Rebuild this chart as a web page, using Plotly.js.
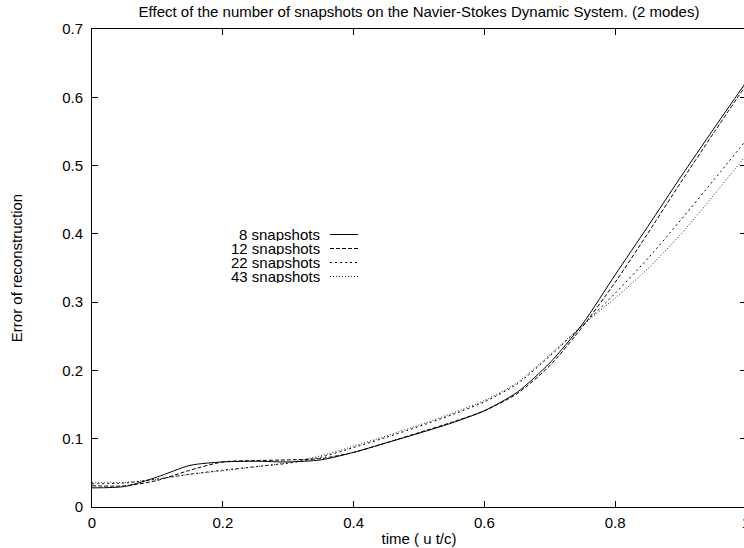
<!DOCTYPE html>
<html>
<head>
<meta charset="utf-8">
<script src="https://cdn.plot.ly/plotly-3.0.1.min.js"></script>
<style>
html, body { margin: 0; padding: 0; overflow: hidden; background: #fff; }
#chart { width: 748px; height: 548px; }
</style>
</head>
<body>
<div id="chart"></div>
<script>
const time = [0, 0.05, 0.1, 0.15, 0.2, 0.25, 0.3, 0.35, 0.4, 0.45, 0.5, 0.55, 0.6, 0.65, 0.7, 0.75, 0.8, 0.85, 0.9, 0.95, 1.0];
const snap8  = [0.028, 0.030, 0.044, 0.061, 0.066, 0.067, 0.066, 0.069, 0.080, 0.094, 0.108, 0.123, 0.141, 0.168, 0.211, 0.268, 0.340, 0.411, 0.483, 0.553, 0.622];
const snap12 = [0.031, 0.031, 0.039, 0.054, 0.066, 0.068, 0.069, 0.071, 0.080, 0.094, 0.109, 0.124, 0.141, 0.166, 0.207, 0.264, 0.329, 0.401, 0.475, 0.547, 0.618];
const snap22 = [0.034, 0.035, 0.041, 0.048, 0.054, 0.059, 0.064, 0.073, 0.087, 0.102, 0.118, 0.135, 0.154, 0.180, 0.221, 0.266, 0.313, 0.364, 0.420, 0.478, 0.537];
const snap43 = [0.036, 0.036, 0.041, 0.048, 0.053, 0.059, 0.065, 0.075, 0.089, 0.104, 0.120, 0.137, 0.156, 0.182, 0.223, 0.266, 0.306, 0.349, 0.399, 0.456, 0.515];
const seriesNames = ["8 snapshots", "12 snapshots", "22 snapshots", "43 snapshots"];
const seriesData = [snap8, snap12, snap22, snap43];
const dashes = ["solid", "4px,2px", "2px,3px", "1px,2px"];
const colors = ["#000", "#000", "#000", "#222"];

const traces = seriesData.map((ys, i) => ({
  x: time, y: ys, type: "scatter", mode: "lines", name: seriesNames[i],
  line: { color: colors[i], width: 1, dash: dashes[i], shape: "spline", smoothing: 0.7 },
  showlegend: false, hoverinfo: "skip"
}));

// gnuplot-style key: right-aligned text, sample line to its right
const plotL = 92, plotR = 746, plotT = 29, plotB = 507;
const pw = plotR - plotL, ph = plotB - plotT;
const legendRows = [234.5, 248.5, 262.5, 276.5];
const fam = "Liberation Sans, Arial, sans-serif";
const font = { family: fam, size: 15, color: "#000" };
const annotations = [], shapes = [];
seriesNames.forEach((n, i) => {
  const py = (plotB - legendRows[i]) / ph;
  annotations.push({
    xref: "paper", yref: "paper", x: (321 - plotL) / pw, y: py,
    xanchor: "right", yanchor: "middle", text: n, showarrow: false,
    font: font, borderpad: 0, height: 13, valign: "middle"
  });
  shapes.push({
    type: "line", xref: "paper", yref: "paper",
    x0: (330 - plotL) / pw, x1: (358 - plotL) / pw, y0: py, y1: py,
    line: { color: colors[i], width: 1, dash: dashes[i] }
  });
});

const layout = {
  width: 748, height: 548,
  margin: { l: plotL, r: 748 - plotR, t: plotT, b: 548 - plotB },
  paper_bgcolor: "#fff", plot_bgcolor: "#fff",
  font: font,
  title: { text: "Effect of the number of snapshots on the Navier-Stokes Dynamic System. (2 modes)",
    font: font, x: 419 / 748, xanchor: "center", xref: "container", y: 1 - 12 / 548, yanchor: "middle", yref: "container" },
  xaxis: {
    range: [0, 1], tickvals: [0, 0.2, 0.4, 0.6, 0.8, 1], ticktext: ["0", "0.2", "0.4", "0.6", "0.8", "1"],
    ticks: "inside", ticklen: 6, tickcolor: "#000", tickwidth: 1,
    showline: true, linecolor: "#000", linewidth: 1, mirror: "ticks",
    showgrid: false, zeroline: false, tickfont: font, ticklabeloverflow: "allow", ticklabelstandoff: 2,
    title: { text: "time ( u t/c)", font: font, standoff: 3 }, automargin: false
  },
  yaxis: {
    range: [0, 0.7], tickvals: [0, 0.1, 0.2, 0.3, 0.4, 0.5, 0.6, 0.7], ticktext: ["0", "0.1", "0.2", "0.3", "0.4", "0.5", "0.6", "0.7"],
    ticks: "inside", ticklen: 6, tickcolor: "#000", tickwidth: 1,
    showline: true, linecolor: "#000", linewidth: 1, mirror: "ticks",
    showgrid: false, zeroline: false, tickfont: font, ticklabeloverflow: "allow", ticklabelstandoff: 5,
    title: { text: "Error of reconstruction", font: font, standoff: 35 }, automargin: false
  },
  annotations: annotations, shapes: shapes, showlegend: false
};
Plotly.newPlot("chart", traces, layout, { staticPlot: true, displayModeBar: false });
</script>
</body>
</html>
